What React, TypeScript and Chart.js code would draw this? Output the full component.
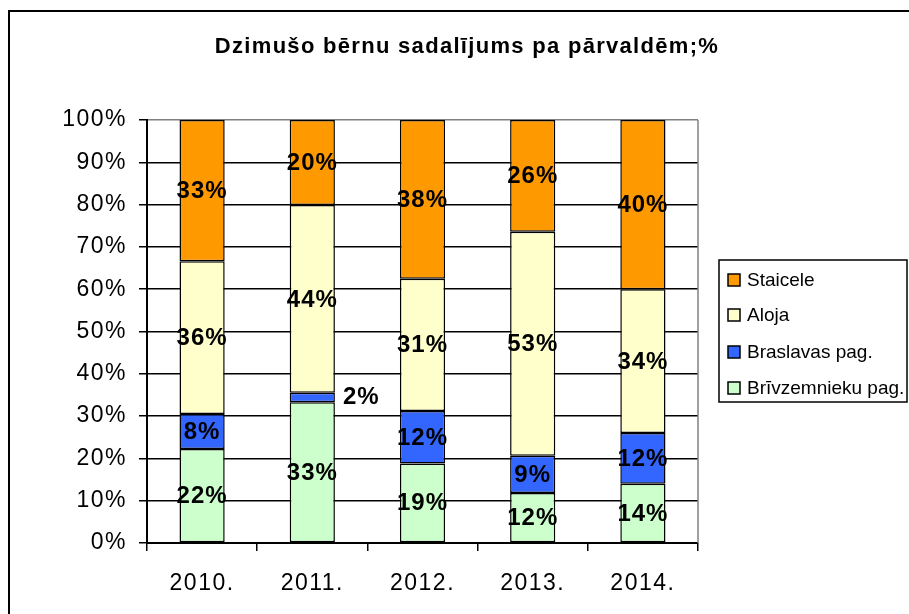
import React, { useEffect, useRef } from "react";
import { Chart, registerables } from "chart.js";

Chart.register(...registerables);

const TITLE = "Dzimušo bērnu sadalījums pa pārvaldēm;%";
const categories = ["2010.", "2011.", "2012.", "2013.", "2014."];
const brivzemnieku = [22.2, 33.3, 18.8, 11.8, 14.0];
const braslavas = [8.3, 2.2, 12.4, 8.8, 12.0];
const aloja = [36.1, 44.4, 31.3, 53.0, 34.0];
const staicele = [33.4, 20.1, 37.5, 26.4, 40.0];
const seriesNames = ["Brīvzemnieku pag.", "Braslavas pag.", "Aloja", "Staicele"];
const seriesColors = ["#CCFFCC", "#3366FF", "#FFFFCC", "#FF9900"];
const yTicks = [0, 10, 20, 30, 40, 50, 60, 70, 80, 90, 100];

const FONT = '"Liberation Sans", Arial, sans-serif';

const decorPlugin = {
  id: "decor",
  beforeDraw(chart: any) {
    const ctx = chart.ctx;
    ctx.save();
    ctx.fillStyle = "#fff";
    ctx.fillRect(0, 0, chart.width, chart.height);
    ctx.restore();
    ctx.letterSpacing = "1.5px";
  },
  beforeDatasetsDraw(chart: any) {
    const ctx = chart.ctx;
    const a = chart.chartArea;
    ctx.save();
    ctx.strokeStyle = "#808080";
    ctx.lineWidth = 1.5;
    ctx.beginPath();
    ctx.moveTo(a.right, a.top);
    ctx.lineTo(a.right, a.bottom);
    ctx.stroke();
    ctx.restore();
  },
  afterDatasetsDraw(chart: any) {
    const ctx = chart.ctx;
    ctx.save();
    ctx.letterSpacing = "1px";
    ctx.font = `bold 24px ${FONT}`;
    ctx.fillStyle = "#000";
    ctx.textBaseline = "middle";
    chart.data.datasets.forEach((ds: any, di: number) => {
      const meta = chart.getDatasetMeta(di);
      meta.data.forEach((bar: any, i: number) => {
        const v = ds.data[i];
        const label = Math.round(v) + "%";
        const h = Math.abs(bar.base - bar.y);
        const cy = (bar.y + bar.base) / 2;
        if (h < 20) {
          ctx.textAlign = "left";
          ctx.fillText(label, bar.x + bar.width / 2 + 8, cy);
        } else {
          ctx.textAlign = "center";
          ctx.fillText(label, bar.x, cy + 1);
        }
      });
    });
    ctx.restore();
  },
  afterDraw(chart: any) {
    const ctx = chart.ctx;
    ctx.save();
    // outer border
    ctx.strokeStyle = "#000";
    ctx.lineWidth = 2;
    ctx.strokeRect(9, 11, chart.width + 20, chart.height + 20);
    // title
    ctx.letterSpacing = "1.3px";
    ctx.font = `bold 22px ${FONT}`;
    ctx.fillStyle = "#000";
    ctx.textAlign = "center";
    ctx.textBaseline = "middle";
    ctx.fillText(TITLE, 467, 47);
    // legend
    ctx.lineWidth = 1.5;
    ctx.strokeRect(719, 260, 188, 142);
    ctx.letterSpacing = "0px";
    ctx.font = `19px ${FONT}`;
    ctx.textAlign = "left";
    const ys = [280, 315, 352, 388];
    for (let k = 0; k < 4; k++) {
      const si = 3 - k;
      const y = ys[k];
      ctx.fillStyle = seriesColors[si];
      ctx.fillRect(728, y - 6, 12, 12);
      ctx.strokeStyle = "#000";
      ctx.lineWidth = 1.5;
      ctx.strokeRect(728, y - 6, 12, 12);
      ctx.fillStyle = "#000";
      ctx.fillText(seriesNames[si], 747, y + 1);
    }
    ctx.restore();
  },
};

export default function App() {
  const ref = useRef<HTMLCanvasElement | null>(null);
  useEffect(() => {
    const canvas = ref.current!;
    const datasets = [brivzemnieku, braslavas, aloja, staicele].map((d, i) => ({
      label: seriesNames[i],
      data: d,
      backgroundColor: seriesColors[i],
      borderColor: "#000",
      borderWidth: 1.5,
      borderSkipped: false,
      barPercentage: 0.41,
      categoryPercentage: 1,
    }));
    const chart = new Chart(canvas, {
      type: "bar",
      data: { labels: categories, datasets },
      plugins: [decorPlugin],
      options: {
        responsive: false,
        animation: false,
        devicePixelRatio: 1,
        layout: { padding: { left: 10, right: 211, top: 120, bottom: 11 } },
        plugins: {
          legend: { display: false },
          title: { display: false },
          tooltip: { enabled: false },
        },
        scales: {
          x: {
            stacked: true,
            afterFit: (s: any) => {
              s.height = 60;
            },
            grid: {
              offset: true,
              drawOnChartArea: false,
              drawTicks: true,
              tickLength: 8,
              tickColor: "#000",
              lineWidth: 1.5,
            },
            border: { color: "#000", width: 2 },
            ticks: {
              color: "#000",
              font: { family: FONT, size: 23 },
              padding: 19,
              maxRotation: 0,
            },
          },
          y: {
            stacked: true,
            min: 0,
            max: 100,
            afterFit: (s: any) => {
              s.width = 137;
            },
            afterBuildTicks: (s: any) => {
              s.ticks = yTicks.map((v) => ({ value: v }));
            },
            grid: {
              color: (c: any) => (c.tick && c.tick.value === 100 ? "#808080" : "#000"),
              lineWidth: 1.5,
              drawTicks: true,
              tickLength: 8,
              tickColor: "#000",
            },
            border: { color: "#000", width: 2 },
            ticks: {
              color: "#000",
              font: { family: FONT, size: 23 },
              padding: 12,
              callback: (v: any) => v + "%",
            },
          },
        },
      } as any,
    });
    return () => chart.destroy();
  }, []);
  return (
    <div style={{ position: "absolute", left: 0, top: 0, width: 909, height: 614, background: "#fff" }}>
      <canvas ref={ref} width={909} height={614} style={{ display: "block" }} />
    </div>
  );
}
